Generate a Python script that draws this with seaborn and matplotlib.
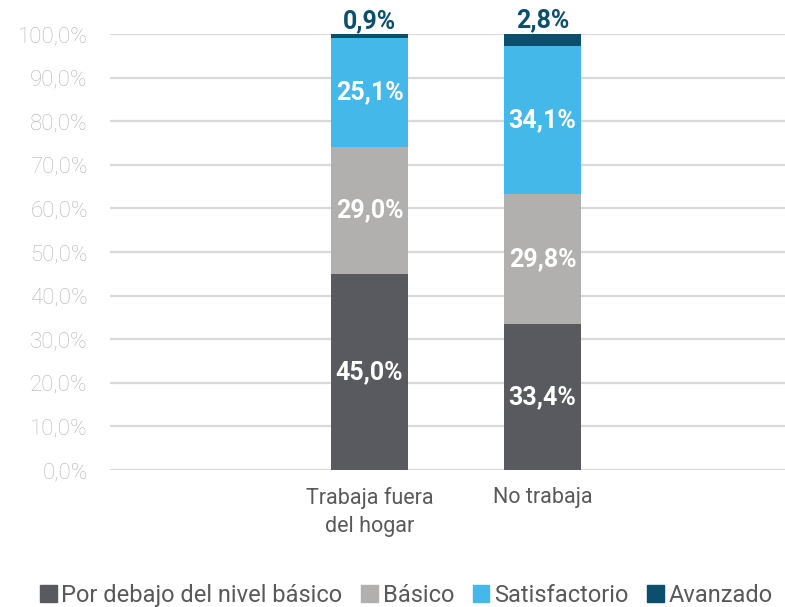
import matplotlib
matplotlib.use("Agg")
import matplotlib.pyplot as plt
import matplotlib.patches as mpatches
import seaborn as sns
import pandas as pd

categories = ["Trabaja fuera\ndel hogar", "No trabaja"]
niveles = ["Por debajo del nivel básico", "Básico", "Satisfactorio", "Avanzado"]
por_debajo = [45.0, 33.4]
basico = [29.0, 29.8]
satisfactorio = [25.1, 34.1]
avanzado = [0.9, 2.8]

colors = ["#595960", "#b1b0af", "#45b8ea", "#0b4f6c"]
series = [por_debajo, basico, satisfactorio, avanzado]

sns.set_theme(style="white")
plt.rcParams["font.family"] = ["Roboto", "DejaVu Sans"]

fig = plt.figure(figsize=(7.85, 6.07), dpi=100)
ax = fig.add_axes([0.140, 0.2257, 0.86, 0.7183])

bottom = [0.0, 0.0]
for name, vals, col in zip(niveles, series, colors):
    df = pd.DataFrame({"cat": categories, "val": vals})
    sns.barplot(data=df, x="cat", y="val", color=col, width=0.445,
                bottom=bottom, ax=ax, saturation=1, zorder=3, linewidth=0)
    for i, v in enumerate(vals):
        if name == "Avanzado":
            ax.text(i, bottom[i] + v + 0.2, f"{v:.1f}%".replace(".", ","),
                    ha="center", va="bottom", color=col, fontsize=18,
                    fontweight="bold")
        else:
            ax.text(i, bottom[i] + v / 2, f"{v:.1f}%".replace(".", ","),
                    ha="center", va="center", color="white", fontsize=18,
                    fontweight="bold")
    bottom = [b + v for b, v in zip(bottom, vals)]

ax.set_ylim(0, 100)
ax.set_xlim(-1.5, 2.4)
ax.set_yticks(range(0, 101, 10))
ax.set_yticklabels([f"{t},0%" for t in range(0, 101, 10)])
ax.yaxis.grid(True, color="#d9d9d9", linewidth=1.6, zorder=0)
ax.set_axisbelow(True)
ax.set_xlabel("")
ax.set_ylabel("")
sns.despine(ax=ax, left=True, bottom=True)
ax.tick_params(axis="y", labelsize=16, labelcolor="#b5b5b5", pad=16, length=0)
ax.tick_params(axis="x", labelsize=15.5, labelcolor="#595959", pad=12, length=0)
for lab in ax.get_yticklabels():
    lab.set_fontweight("light")
for lab in ax.get_xticklabels():
    lab.set_linespacing(1.45)

handles = [mpatches.Patch(color=c, label=n) for c, n in zip(colors, niveles)]
fig.legend(handles=handles, loc="lower left", bbox_to_anchor=(0.024, -0.035),
           ncol=4, frameon=False, fontsize=17, handlelength=0.7,
           handleheight=0.7, handletextpad=0.2, columnspacing=0.8,
           labelcolor="#595959")

fig.savefig("out.png", dpi=100)
